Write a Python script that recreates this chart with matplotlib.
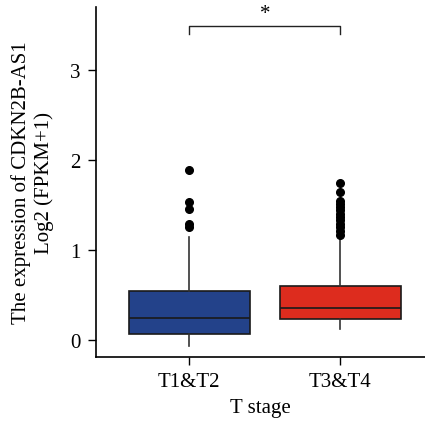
import matplotlib
matplotlib.use('Agg')
import matplotlib.pyplot as plt

# box statistics
groups = ['T1&T2', 'T3&T4']
q1 = [0.067, 0.233]
med = [0.24, 0.36]
q3 = [0.54, 0.60]
whislo = [-0.067, 0.12]
whishi = [1.14, 1.14]
fliers = [
    [1.89, 1.53, 1.46, 1.29, 1.26],
    [1.74, 1.65, 1.55, 1.51, 1.48, 1.44, 1.40, 1.37, 1.33, 1.29, 1.26, 1.21, 1.17],
]
colors = ['#23428a', '#dd2c1e']

plt.rcParams['font.family'] = ['Liberation Serif', 'DejaVu Serif']

fig = plt.figure(figsize=(4.25, 4.27), dpi=100)
ax = fig.add_axes([0.226, 0.162, 0.774, 0.819])

stats = []
for i, g in enumerate(groups):
    stats.append(dict(label=g, q1=q1[i], med=med[i], q3=q3[i],
                      whislo=whislo[i], whishi=whishi[i], fliers=fliers[i]))

bp = ax.bxp(stats, positions=[0, 1], widths=0.8, patch_artist=True,
            showcaps=False,
            boxprops=dict(linewidth=1.2, edgecolor='#1a1a1a'),
            medianprops=dict(color='#1a1a1a', linewidth=1.2),
            whiskerprops=dict(color='#333333', linewidth=1.2),
            flierprops=dict(marker='o', markerfacecolor='black',
                            markeredgecolor='black', markersize=5.5))
for patch, c in zip(bp['boxes'], colors):
    patch.set_facecolor(c)

# significance bracket
ax.plot([0, 0, 1, 1], [3.40, 3.49, 3.49, 3.40], color='#222222', lw=1.0)
ax.text(0.5, 3.52, '*', ha='center', va='bottom', fontsize=15)

ax.set_xlim(-0.617, 1.56)
ax.set_ylim(-0.186, 3.70)
ax.set_yticks([0, 1, 2, 3])
ax.set_xticks([0, 1])
ax.set_xticklabels(groups)
ax.tick_params(labelsize=15, length=6, width=1.0, pad=5)
ax.spines['top'].set_visible(False)
ax.spines['right'].set_visible(False)
ax.spines['left'].set_linewidth(1.2)
ax.spines['bottom'].set_linewidth(1.2)
ax.set_xlabel('T stage', fontsize=15, labelpad=5)
ax.set_ylabel('The expression of CDKN2B-AS1\nLog2 (FPKM+1)', fontsize=15,
              linespacing=1.2, labelpad=12)

fig.savefig('out.png', dpi=100)
